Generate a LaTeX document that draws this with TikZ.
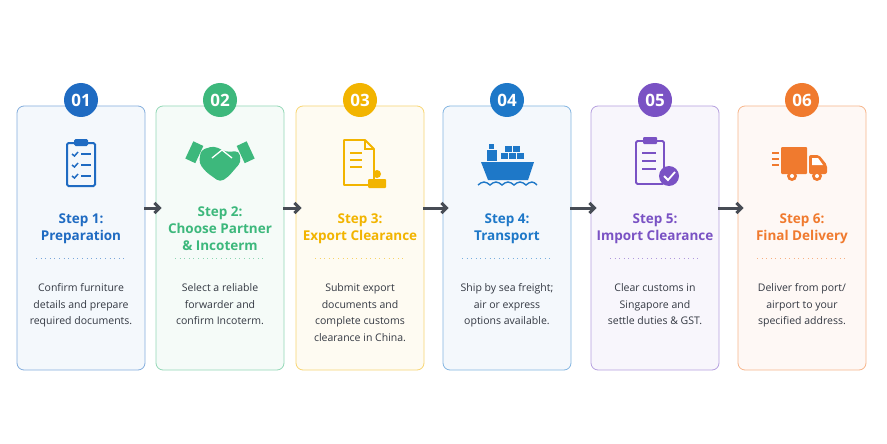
\documentclass[tikz,border=0pt]{standalone}
\usepackage{fontspec}
\setmainfont{Open Sans}
\usetikzlibrary{positioning,arrows.meta}
\definecolor{cBlue}{HTML}{1F6BC2}
\definecolor{cGreen}{HTML}{3DB87C}
\definecolor{cYellow}{HTML}{F2B400}
\definecolor{cSea}{HTML}{1E78C8}
\definecolor{cPurple}{HTML}{7A52C4}
\definecolor{cOrange}{HTML}{F07A2E}
\definecolor{cText}{HTML}{333842}
\tikzset{
  card/.style={draw=#1!55,fill=#1!5,rounded corners=7pt,line width=0.8pt,minimum width=128pt,minimum height=264pt},
  badge/.style={circle,fill=#1,minimum size=34pt,inner sep=0pt,text=white,font=\bfseries\fontsize{17}{17}\selectfont},
  title/.style={text=#1,font=\bfseries\fontsize{13.5}{17}\selectfont,align=center},
  body/.style={text=cText,font=\fontsize{10.5}{16.5}\selectfont,align=center},
  flow/.style={-{Straight Barb[length=5pt,width=10pt]},line width=3pt,draw=cText!90}
}
\begin{document}
\begin{tikzpicture}[x=1pt,y=-1pt]
  \useasboundingbox[fill=white] (0,0) rectangle (887,444);
  \foreach \i/\x/\c/\t/\b in {
    1/81/cBlue/{Step 1:\\Preparation}/{Confirm furniture\\details and prepare\\required documents.},
    2/220/cGreen/{Step 2:\\Choose Partner\\\& Incoterm}/{Select a reliable\\forwarder and\\confirm Incoterm.},
    3/360/cYellow/{Step 3:\\Export Clearance}/{Submit export\\documents and\\complete customs\\clearance in China.},
    4/507/cSea/{Step 4:\\Transport}/{Ship by sea freight;\\air or express\\options available.},
    5/655/cPurple/{Step 5:\\Import Clearance}/{Clear customs in\\Singapore and\\settle duties \& GST.},
    6/802/cOrange/{Step 6:\\Final Delivery}/{Deliver from port/\\airport to your\\specified address.}}{
    \node[card=\c] (card\i) at (\x,238) {};
    \node[badge=\c] (badge\i) at (\x,100) {0\i};
    \node[title=\c,anchor=center] (title\i) at (\x,229) {\t};
    \draw[\c!60,line width=0.7pt,dash pattern=on 0.6pt off 4pt] (\x-45,258) -- (\x+45,258);
    \node[body,anchor=north] (body\i) at (\x,280) {\b};
  }
  % arrows
  \foreach \a/\b in {1/2,2/3,3/4,4/5,5/6}
    \draw[flow] ([xshift=-1pt,yshift=30pt]card\a.east) -- ([xshift=6pt,yshift=30pt]card\b.west);
  % icon 1: clipboard
  \draw[cBlue,line width=2pt,rounded corners=1.5pt] (67,143) rectangle (95,186);
  \fill[cBlue,rounded corners=1.5pt] (74,139) rectangle (88,146);
  \foreach \y in {154,165,176}{
    \draw[cBlue,line width=1.5pt] (72,\y) -- (74.5,\y+2) -- (78,\y-2);
    \draw[cBlue,line width=1.5pt] (81,\y) -- (91,\y);}
  % icon 2: handshake
  \fill[cGreen,rotate around={-25:(195,152)}] (189,143) rectangle (200,162);
  \fill[cGreen,rotate around={25:(245,152)}] (240,143) rectangle (251,162);
  \fill[cGreen,rounded corners=4pt] (201,150) -- (214,146) -- (226,152) -- (239,151) -- (241,162) -- (228,177) -- (220,182) -- (206,172) -- (199,163) -- cycle;
  \draw[white,line width=1.3pt] (212,158) -- (222,150) -- (232,158);
  % icon 3: document with stamp
  \draw[cYellow,line width=1.8pt,line join=round] (344,140) -- (365,140) -- (374,149) -- (374,185) -- (344,185) -- cycle;
  \draw[cYellow,line width=1.8pt] (365,140) -- (365,149) -- (374,149);
  \foreach \y in {153,160,167}\draw[cYellow,line width=1.5pt] (350,\y) -- (362,\y);
  \fill[cYellow] (377,174) circle (4pt);
  \fill[cYellow,rounded corners=1pt] (368,179) rectangle (386,188);
  % icon 4: ship
  \fill[cSea] (481,162) -- (534,162) -- (528,180) -- (488,180) -- cycle;
  \fill[cSea] (487,150) rectangle (497,161);
  \fill[cSea] (489,144) rectangle (494,149);
  \foreach \px/\py in {501/153,509/153,517/153,505/146,513/146}\fill[cSea] (\px,\py) rectangle ++(7,6);
  \draw[cSea,line width=1.4pt] (478,185) sin (484,182) cos (490,185) sin (496,182) cos (502,185) sin (508,182) cos (514,185) sin (520,182) cos (526,185) sin (532,182) cos (537,185);
  % icon 5: document with check
  \draw[cPurple,line width=1.8pt,rounded corners=1.5pt] (636,141) rectangle (664,184);
  \fill[cPurple,rounded corners=1pt] (643,137) rectangle (657,144);
  \foreach \y in {153,161,169}\draw[cPurple,line width=1.5pt] (642,\y) -- (656,\y);
  \fill[cPurple] (669,176) circle (10pt);
  \draw[white,line width=1.8pt] (664,176) -- (668,180) -- (675,172);
  % icon 6: truck
  \fill[cOrange,rounded corners=1pt] (781,147) rectangle (807,174);
  \fill[cOrange,rounded corners=2pt] (809,155) -- (819,155) -- (827,165) -- (827,174) -- (809,174) -- cycle;
  \fill[white] (812,158) -- (818,158) -- (823,165) -- (812,165) -- cycle;
  \foreach \y in {152,158,164}\fill[cOrange] (772,\y) rectangle (779,\y+2);
  \foreach \wx in {792,817}{\fill[cOrange] (\wx,176) circle (5pt);\fill[white] (\wx,176) circle (2pt);}
\end{tikzpicture}
\end{document}
